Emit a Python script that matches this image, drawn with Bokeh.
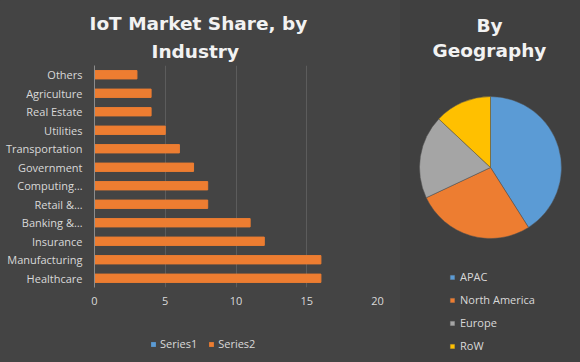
from bokeh.plotting import figure
from bokeh.models import Range1d, FactorRange, Legend, LegendItem, ColumnDataSource, Title
from bokeh.layouts import row, column
from bokeh.embed import file_html
from bokeh.resources import INLINE
from bokeh.core.properties import value
import math

# ---- data ----
categories = ["Healthcare", "Manufacturing", "Insurance", "Banking &…", "Retail &…",
              "Computing…", "Government", "Transportation", "Utilities",
              "Real Estate", "Agriculture", "Others"]
series2 = [16, 16, 12, 11, 8, 8, 7, 6, 5, 4, 4, 3]
series1_cats = []
series1_vals = []
series_names = ["Series1", "Series2"]
series_colors = ["#5b9bd5", "#ed7d31"]
x_ticks = [0, 5, 10, 15, 20]

regions = ["APAC", "North America", "Europe", "RoW"]
shares = [41, 27, 19, 13]
region_colors = ["#5b9bd5", "#ed7d31", "#a5a5a5", "#ffc000"]

BG_L = "#444444"
BG_R = "#404040"
TXT = "#d9d9d9"
FONT = "Open Sans"
TFONT = "DejaVu Sans"
TSIZE = "18.5px"

# ---- left: bar chart ----
p = figure(width=400, height=330, y_range=FactorRange(factors=categories),
           x_range=Range1d(0, 20), output_backend="svg", toolbar_location=None,
           min_border_left=94, min_border_right=23, min_border_top=65,
           min_border_bottom=43)
p.frame_align = False
p.background_fill_color = BG_L
p.border_fill_color = BG_L
p.outline_line_color = None

p.hbar(y=series1_cats, right=series1_vals, height=0.45, color=series_colors[0])
p.hbar(y=categories, right=series2, height=0.45, color=series_colors[1])

p.xaxis.ticker = x_ticks
p.xaxis.axis_line_color = None
p.xaxis.major_label_standoff = 9
p.yaxis.axis_line_color = "#8c8c8c"
p.yaxis.major_label_standoff = 12
for ax in (p.xaxis, p.yaxis):
    ax.major_tick_line_color = None
    ax.minor_tick_line_color = None
    ax.major_tick_out = 0
    ax.major_tick_in = 0
    ax.minor_tick_out = 0
    ax.major_label_text_color = TXT
    ax.major_label_text_font = FONT
    ax.major_label_text_font_size = "11px"
p.xgrid.grid_line_color = "#5c5c5c"
p.ygrid.grid_line_color = None

p.add_layout(Title(text="Industry", align="left", offset=62 - 5, standoff=7,
                   text_font=TFONT, text_font_style="bold", text_font_size=TSIZE,
                   text_color="#f2f2f2"), "above")
p.add_layout(Title(text="IoT Market Share, by", align="left", offset=0 - 5, standoff=3,
                   text_font=TFONT, text_font_style="bold", text_font_size=TSIZE,
                   text_color="#f2f2f2"), "above")

# legend strip under the bar chart (its swatch renderers have zero length)
lf = figure(width=400, height=32, x_range=Range1d(0, 1), y_range=Range1d(0, 1),
            x_axis_location=None, y_axis_location=None, min_border=0,
            output_backend="svg", toolbar_location=None)
lf.frame_align = False
lf.background_fill_color = BG_L
lf.border_fill_color = BG_L
lf.outline_line_color = None
lf.grid.visible = False
lr = [lf.hbar(y=[0.5], right=[0], height=0.5, fill_color=c, line_color=None)
      for c in series_colors]
leg = Legend(items=[LegendItem(label=n, renderers=[r]) for n, r in zip(series_names, lr)],
             orientation="horizontal", location=(150, 11),
             background_fill_alpha=0, border_line_color=None,
             padding=0, margin=0, spacing=11, glyph_width=6, glyph_height=6,
             label_height=14, label_standoff=4,
             label_text_font=FONT, label_text_font_size="11px", label_text_color=TXT)
lf.add_layout(leg, "center")

# ---- right: pie chart ----
q = figure(width=180, height=362, x_range=Range1d(0, 180), y_range=Range1d(0, 362),
           x_axis_location=None, y_axis_location=None, min_border=0,
           output_backend="svg", toolbar_location=None)
q.frame_align = False
q.background_fill_color = BG_R
q.border_fill_color = BG_R
q.outline_line_color = None
q.grid.visible = False

total = sum(shares)
starts, ends = [], []
acc = 0
for s in shares:
    starts.append(math.pi / 2 - 2 * math.pi * acc / total)
    acc += s
    ends.append(math.pi / 2 - 2 * math.pi * acc / total)
src = ColumnDataSource(dict(region=regions, start=starts, end=ends, color=region_colors))
q.wedge(x=90, y=362 - 167, radius=71, start_angle="start", end_angle="end",
        direction="clock", fill_color="color", line_color="#505050", line_width=0.5,
        source=src, legend_field="region")

for txt, yy in (("By", 25), ("Geography", 50)):
    q.text(x=[89], y=[362 - yy], text=[txt], text_align="center", text_baseline="middle",
           text_font=value(TFONT), text_font_style="bold", text_font_size=TSIZE,
           text_color="#f2f2f2")

lg = q.legend[0]
lg.location = (49, 9)
lg.orientation = "vertical"
lg.background_fill_alpha = 0
lg.border_line_color = None
lg.padding = 0
lg.margin = 0
lg.spacing = 8
lg.glyph_width = 6
lg.glyph_height = 6
lg.label_height = 14
lg.label_standoff = 5
lg.label_text_font = FONT
lg.label_text_font_size = "11px"
lg.label_text_color = TXT

left = column(p, lf, styles={"background-color": BG_L})
layout = row(left, q, styles={"background-color": BG_R})
open("out.html", "w").write(file_html(layout, INLINE))
